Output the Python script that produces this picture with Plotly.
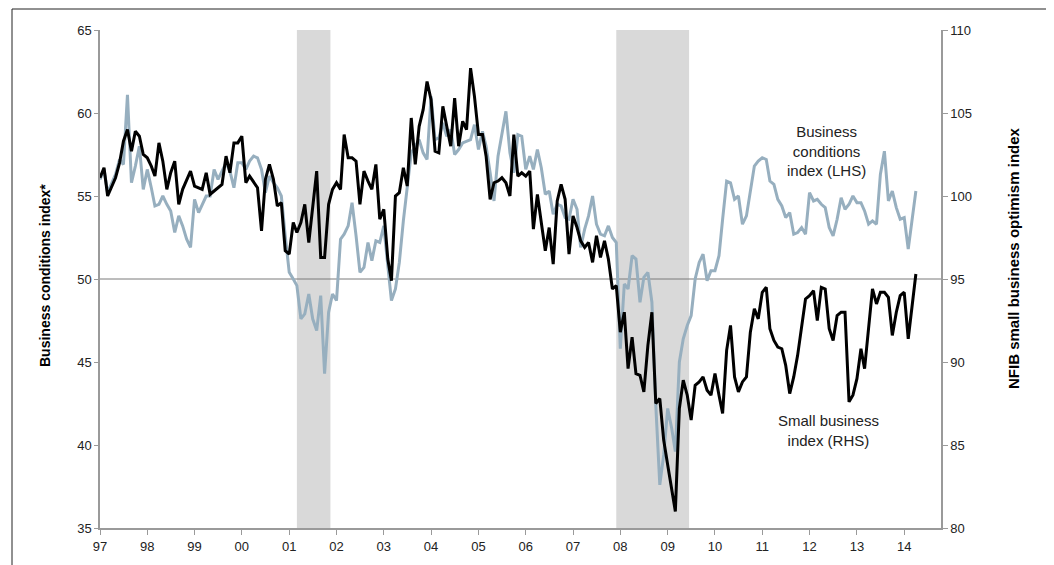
import pandas as pd
import plotly.graph_objects as go

# ---- data (monthly, Jan 1997 - Apr 2014) ----
start_month = "1997-01-01"

business_conditions = [
    56.0, 56.6, 55.2, 55.8, 56.3, 57.2, 56.9, 61.1, 55.8, 56.8, 58.0, 55.4,
    56.6, 55.5, 54.4, 54.5, 55.0, 54.5, 54.1, 52.8, 53.8, 53.2, 52.4, 51.9,
    54.8, 54.0, 54.5, 55.0, 55.0, 56.6, 56.0, 56.5, 57.0, 56.5, 55.5, 57.0,
    57.0, 56.6, 57.1, 57.4, 57.3, 56.6, 55.2, 56.2, 55.8, 55.5, 55.0, 52.6,
    50.4, 50.0, 49.6, 47.6, 47.9, 49.1, 47.6, 46.9, 49.0, 44.3, 48.0, 49.1,
    48.7, 52.4, 52.7, 53.2, 54.6, 52.6, 50.4, 50.7, 52.2, 51.1, 52.3, 52.2,
    53.2, 50.8, 48.7, 49.4, 51.0, 53.5, 55.6, 57.6, 58.0, 58.4, 57.6, 57.2,
    61.0, 58.4, 58.5, 59.4, 58.6, 59.0, 57.5, 57.8, 58.2, 58.3, 58.4, 59.3,
    57.8, 58.9, 58.0, 56.4, 54.7, 57.4, 58.7, 60.1, 57.6, 56.4, 58.7, 58.6,
    56.6, 57.4, 56.6, 57.8, 56.7, 55.1, 55.3, 53.9, 54.5, 54.4, 53.7, 53.6,
    54.8, 54.2, 51.9, 53.0, 53.8, 55.0, 53.3, 52.7, 52.6, 53.2, 52.5, 52.2,
    45.8, 49.7, 49.4, 51.4, 51.2, 48.6, 50.1, 50.4, 48.6, 42.4, 37.6, 39.4,
    42.2, 41.0, 39.6, 45.0, 46.4, 47.2, 47.8, 50.0, 51.0, 51.5, 49.9, 50.5,
    50.5, 51.4, 53.6, 55.9, 55.8, 54.8, 55.0, 53.3, 53.8, 55.4, 56.8, 57.1,
    57.3, 57.2, 55.9, 55.7, 54.8, 54.4, 53.7, 54.0, 52.7, 52.8, 53.1, 52.7,
    55.2, 54.7, 54.8, 54.5, 54.3, 53.1, 52.6, 53.6, 54.9, 54.2, 54.5, 55.0,
    54.6, 54.6, 54.1, 53.3, 53.5, 53.3, 56.3, 57.7, 54.7, 55.3, 54.3, 53.6,
    53.7, 51.8, 53.4, 55.3,
]

nfib_optimism = [
    101.1, 101.7, 100.0, 100.6, 101.1, 102.0, 103.3, 104.0, 102.7, 103.9, 103.6, 102.5,
    102.3, 101.8, 101.2, 103.2, 102.1, 100.4, 101.4, 102.1, 99.5, 100.4, 101.0, 101.5,
    100.6, 100.5, 100.4, 101.4, 100.1, 100.3, 100.5, 100.7, 102.4, 101.4, 103.2, 103.2,
    103.6, 100.8, 101.2, 100.8, 100.5, 97.9, 101.0, 101.9, 101.0, 99.4, 99.6, 96.7,
    96.5, 98.4, 97.8, 98.4, 99.5, 97.2, 99.2, 101.5, 96.3, 96.3, 99.5, 100.4,
    100.8, 100.4, 103.7, 102.3, 102.3, 102.1, 99.5, 101.5, 100.9, 100.4, 101.9, 98.6,
    99.2, 96.2, 94.9, 100.0, 100.2, 101.7, 100.6, 104.7, 101.9, 104.2, 105.2, 106.9,
    105.8, 102.7, 102.6, 105.4, 104.2, 103.0, 105.9, 103.0, 104.5, 104.0, 107.7, 106.0,
    103.7, 103.7, 102.4, 99.8, 100.8, 100.9, 101.1, 100.8, 100.0, 103.7, 101.2, 101.4,
    101.2, 101.5, 98.0, 100.1, 98.4, 96.7, 98.1, 95.9, 99.7, 100.7, 99.8, 96.5,
    98.8, 98.1, 97.3, 96.9, 97.2, 96.0, 97.6, 96.3, 97.3, 96.2, 94.4, 94.6,
    91.8, 93.0, 89.6, 91.5, 89.3, 89.2, 88.2, 91.0, 93.0, 87.5, 87.8, 85.3,
    83.8, 82.4, 81.0, 87.2, 88.9, 88.0, 86.5, 88.6, 88.8, 89.1, 88.3, 88.0,
    89.3, 88.0, 86.9, 90.7, 92.2, 89.1, 88.2, 88.8, 89.1, 91.8, 93.2, 92.6,
    94.2, 94.5, 92.0, 91.3, 90.9, 90.8, 89.8, 88.1, 89.1, 90.4, 92.2, 93.8,
    94.0, 94.3, 92.5, 94.5, 94.4, 92.0, 91.3, 92.8, 93.0, 93.0, 87.6, 88.0,
    89.0, 90.8, 89.6, 92.2, 94.4, 93.5, 94.2, 94.2, 93.9, 91.6, 93.0, 94.0,
    94.2, 91.4, 93.2, 95.3,
]

year_ticks = [f"{y}-01-01" for y in range(1997, 2015)]
year_labels = ["97", "98", "99", "00", "01", "02", "03", "04", "05", "06",
               "07", "08", "09", "10", "11", "12", "13", "14"]

recession_starts = ["2001-03-01", "2007-12-01"]
recession_ends = ["2001-11-15", "2009-06-15"]

# ---- figure ----
dates = pd.date_range(start_month, periods=len(business_conditions), freq="MS")

FONT = "Liberation Sans, Arial, Helvetica, sans-serif"
AXIS_GRAY = "#9a9a9a"

# plot area: margins chosen so the plot box sits at 100..941 x 30..528 on screen
L, R, T, B = 92, 121, 22, 45
PW, PH = 1054 - L - R, 565 - T - B


def px(sx):
    return (sx - 100) / PW


def py(sy):
    return (528 - sy) / PH


fig = go.Figure()
fig.add_trace(go.Scatter(x=dates, y=business_conditions, mode="lines",
                         line=dict(color="#97afbf", width=3), yaxis="y",
                         name="Business conditions index (LHS)"))
fig.add_trace(go.Scatter(x=dates, y=nfib_optimism[:len(dates)], mode="lines",
                         line=dict(color="#000000", width=3), yaxis="y2",
                         name="Small business index (RHS)"))

shapes = []
for s, e in zip(recession_starts, recession_ends):
    shapes.append(dict(type="rect", xref="x", yref="paper", x0=s, x1=e, y0=0, y1=1,
                       fillcolor="#d9d9d9", line=dict(width=0), layer="below"))
shapes.append(dict(type="line", xref="paper", yref="y", x0=0, x1=1, y0=50, y1=50,
                   line=dict(color="#7a7a7a", width=1), layer="below"))
# outer frame of the exhibit
shapes.append(dict(type="rect", xref="paper", yref="paper",
                   x0=px(12), x1=px(1048), y0=py(600), y1=py(9),
                   line=dict(color="#222222", width=1), fillcolor="rgba(0,0,0,0)",
                   layer="below"))

annotations = [
    dict(text="Business<br>conditions<br>index (LHS)", x=px(826), y=py(151),
         xref="paper", yref="paper", xanchor="center", yanchor="middle",
         showarrow=False, align="center",
         font=dict(family=FONT, size=15, color="#222222")),
    dict(text="Small business<br>index (RHS)", x=px(828), y=py(430),
         xref="paper", yref="paper", xanchor="center", yanchor="middle",
         showarrow=False, align="center",
         font=dict(family=FONT, size=15, color="#222222")),
    dict(text="<b>Business conditions index*</b>", x=px(45), y=py(276),
         xref="paper", yref="paper", xanchor="center", yanchor="middle",
         showarrow=False, textangle=-90,
         font=dict(family=FONT, size=14, color="#000000")),
    dict(text="<b>NFIB small business optimism index</b>", x=px(1013), y=py(258),
         xref="paper", yref="paper", xanchor="center", yanchor="middle",
         showarrow=False, textangle=-90,
         font=dict(family=FONT, size=15, color="#000000")),
]

fig.update_layout(
    width=1054, height=565,
    margin=dict(l=L, r=R, t=T, b=B),
    paper_bgcolor="white", plot_bgcolor="white",
    showlegend=False,
    font=dict(family=FONT, size=13, color="#222222"),
    shapes=shapes, annotations=annotations,
    xaxis=dict(range=["1997-01-01", "2014-10-12"], tickvals=year_ticks, ticktext=year_labels,
               showgrid=False, zeroline=False, showline=True, linecolor=AXIS_GRAY, linewidth=2,
               ticks="outside", ticklen=5, tickcolor=AXIS_GRAY, tickfont=dict(size=13)),
    yaxis=dict(range=[35, 65], dtick=5, tick0=35, showgrid=False, zeroline=False,
               showline=True, linecolor=AXIS_GRAY, linewidth=1.5, ticks="outside",
               ticklen=4, tickcolor=AXIS_GRAY, tickfont=dict(size=13)),
    yaxis2=dict(range=[80, 110], dtick=5, tick0=80, overlaying="y", side="right",
                showgrid=False, zeroline=False, showline=True, linecolor=AXIS_GRAY,
                linewidth=1.5, ticks="outside", ticklen=5, tickcolor=AXIS_GRAY,
                tickfont=dict(size=13)),
)

fig.write_html("out.html")
